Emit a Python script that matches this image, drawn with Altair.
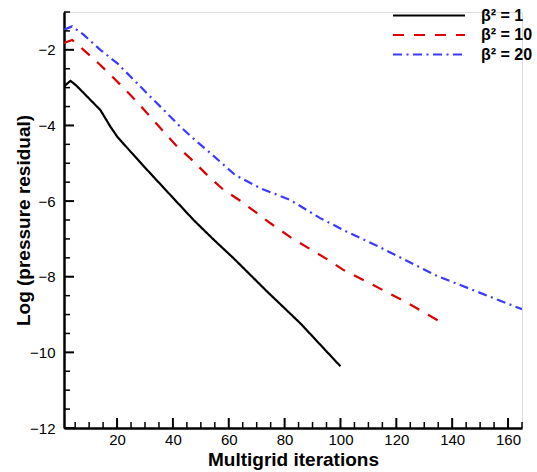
import altair as alt
import pandas as pd

# ---- data ----
series_names = ["β² = 1", "β² = 10", "β² = 20"]

x_b1 = [1, 3.3, 5, 6.3, 10.4, 14, 17.6, 20, 24.8, 30.7, 39.1, 47.4, 54.6, 61.7, 73.7, 85.6, 100]
y_b1 = [-2.97, -2.82, -2.92, -3.01, -3.32, -3.59, -4.03, -4.29, -4.69, -5.17, -5.84, -6.5, -7.02, -7.51, -8.39, -9.23, -10.37]

x_b10 = [1, 3.9, 8, 14, 19.4, 25.4, 30.7, 35.5, 40.9, 46.8, 52.8, 58.1, 64.1, 70.1, 74.8, 82.6, 89.2, 95.7, 101, 109.4, 123.9, 135.7]
y_b10 = [-1.82, -1.74, -2.0, -2.4, -2.79, -3.24, -3.67, -4.07, -4.51, -4.91, -5.35, -5.70, -5.99, -6.32, -6.58, -6.98, -7.27, -7.56, -7.82, -8.13, -8.69, -9.19]

x_b20 = [1, 3.9, 8, 14, 20, 25.4, 30.7, 36.7, 42.6, 48.6, 53.4, 62.3, 71.3, 82, 92.7, 102.3, 113.6, 134.6, 165]
y_b20 = [-1.47, -1.38, -1.6, -2.0, -2.35, -2.75, -3.15, -3.59, -4.03, -4.43, -4.73, -5.31, -5.66, -5.97, -6.45, -6.81, -7.2, -7.98, -8.86]

x_major = [20, 40, 60, 80, 100, 120, 140, 160]
x_minor = [v for v in range(5, 166, 5) if v % 20 != 0]
y_major = [-12, -10, -8, -6, -4, -2]
y_minor = [v / 2 for v in range(-23, -1) if v % 4 != 0]

colors = ["#000000", "#dd0000", "#3a3aff"]
dashes = [[1, 0], [11, 10], [9, 4.5, 2, 4.5]]

# ---- tables ----
rows = []
for name, xs, ys in zip(series_names, [x_b1, x_b10, x_b20], [y_b1, y_b10, y_b20]):
    for i, (a, b) in enumerate(zip(xs, ys)):
        rows.append({"series": name, "it": a, "res": b, "ord": i})
df = pd.DataFrame(rows)

W, H = 458, 416
xscale = alt.Scale(domain=[1, 165], nice=False, zero=False)
yscale = alt.Scale(domain=[-12, -1], nice=False, zero=False)
FONT = "Liberation Sans"

xaxis = alt.Axis(
    values=x_major, grid=False, ticks=False, tickSize=0, domain=True,
    domainColor="black", domainWidth=2.5, labelFont=FONT, labelFontSize=15,
    labelColor="black", labelPadding=4, title="Multigrid iterations",
    titleFont=FONT, titleFontSize=19, titleFontWeight="bold", titleColor="black",
    titleY=37, titleBaseline="alphabetic")
yaxis = alt.Axis(
    values=y_major, grid=False, ticks=False, tickSize=0, domain=True,
    domainColor="black", domainWidth=2.5, labelFont=FONT, labelFontSize=15,
    labelColor="black", labelPadding=9, title="Log (pressure residual)",
    titleFont=FONT, titleFontSize=19, titleFontWeight="bold", titleColor="black",
    titleX=-41, titleY=H / 2, titleBaseline="middle", titleAlign="center", titleAngle=270)

legend = alt.Legend(title=None, orient="none", legendX=328, legendY=-6,
                    symbolType="stroke", symbolSize=5184, symbolStrokeWidth=2,
                    clipHeight=19, rowPadding=0.5, labelOffset=15,
                    labelFont=FONT, labelFontSize=16, labelFontWeight="bold",
                    labelColor="black", padding=0)

lines = alt.Chart(df).mark_line(strokeWidth=2.2, clip=True).encode(
    x=alt.X("it:Q", scale=xscale, axis=xaxis),
    y=alt.Y("res:Q", scale=yscale, axis=yaxis),
    color=alt.Color("series:N", scale=alt.Scale(domain=series_names, range=colors), legend=legend),
    strokeDash=alt.StrokeDash("series:N", scale=alt.Scale(domain=series_names, range=dashes), legend=legend),
    order="ord:Q",
)

xmaj = alt.Chart(pd.DataFrame({"v": x_major})).mark_rule(color="black", strokeWidth=2).encode(
    x=alt.X("v:Q", scale=xscale, axis=xaxis), y=alt.value(H), y2=alt.value(H - 10))
xmin = alt.Chart(pd.DataFrame({"v": x_minor})).mark_rule(color="black", strokeWidth=1.5).encode(
    x=alt.X("v:Q", scale=xscale, axis=xaxis), y=alt.value(H), y2=alt.value(H - 6))
ymaj = alt.Chart(pd.DataFrame({"v": y_major})).mark_rule(color="black", strokeWidth=2).encode(
    y=alt.Y("v:Q", scale=yscale, axis=yaxis), x=alt.value(0), x2=alt.value(10))
ymin = alt.Chart(pd.DataFrame({"v": y_minor})).mark_rule(color="black", strokeWidth=1.5).encode(
    y=alt.Y("v:Q", scale=yscale, axis=yaxis), x=alt.value(0), x2=alt.value(6))

chart = alt.layer(lines, xmaj, xmin, ymaj, ymin).properties(
    width=W, height=H,
    padding={"left": 64, "top": 12, "right": 15, "bottom": 44},
    autosize=alt.AutoSizeParams(type="none"),
).configure_view(stroke=None).configure(background="white")

chart.save("out.html", embed_options={"renderer": "svg", "actions": False})
